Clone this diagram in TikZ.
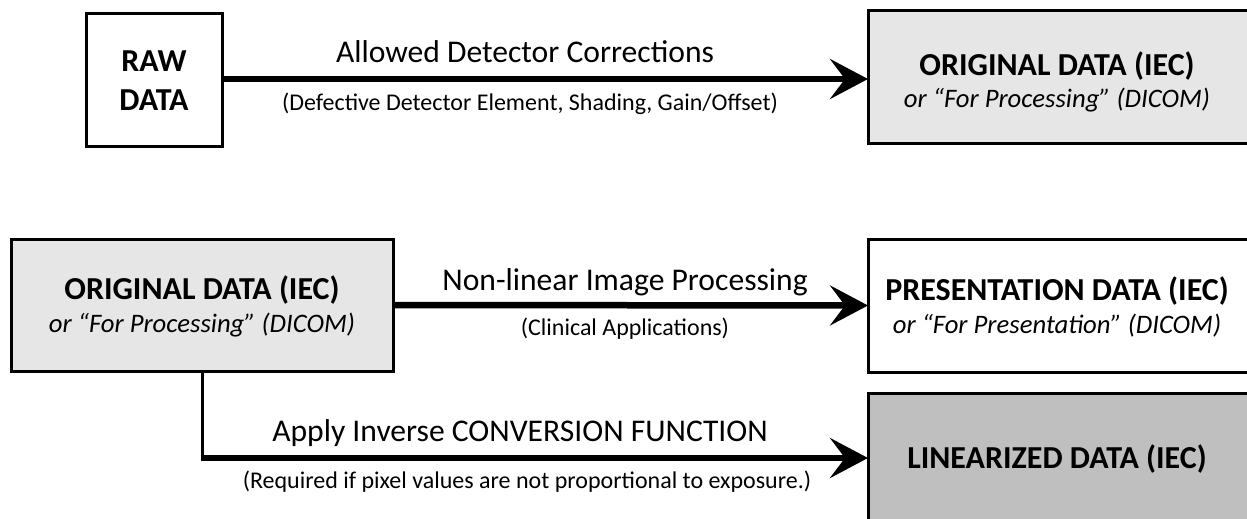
\documentclass[tikz,border=0pt]{standalone}
\usepackage{fontspec}
\setmainfont{Carlito}
\usetikzlibrary{arrows.meta}
\definecolor{lightbox}{HTML}{E6E6E6}
\definecolor{darkbox}{HTML}{BFBFBF}
\tikzset{
  box/.style={draw=black, line width=3pt, inner sep=0pt, outer sep=0pt},
  boxtext/.style={font=\fontsize{32}{38}\selectfont\bfseries, inner sep=0pt, anchor=base},
  subtext/.style={font=\fontsize{26.7}{32}\selectfont\itshape, inner sep=0pt, anchor=base},
  biglabel/.style={font=\fontsize{31.6}{36}\selectfont, inner sep=0pt, anchor=base},
  smalllabel/.style={font=\fontsize{24}{28}\selectfont, inner sep=0pt, anchor=base},
  flow/.style={line width=6.5pt, -{Stealth[length=38pt, width=40pt, inset=15pt]}},
  stem/.style={line width=3pt}
}
\begin{document}
\begin{tikzpicture}[x=1pt,y=-1pt]
\useasboundingbox (0,0) rectangle (1247,519);
\clip (0,0) rectangle (1247,519);
% boxes
\node[box, fill=white, minimum width=136pt, minimum height=132pt] (raw) at (154,80) {};
\node[box, fill=lightbox, minimum width=384pt, minimum height=132pt] (orig1) at (1060,77) {};
\node[box, fill=lightbox, minimum width=382pt, minimum height=132pt] (orig2) at (202,305) {};
\node[box, fill=white, minimum width=384pt, minimum height=133pt] (pres) at (1060,305.5) {};
\node[box, fill=darkbox, minimum width=384pt, minimum height=130pt] (lin) at (1060,458) {};
% box texts
\node[boxtext] (rawt1) at (154,71) {RAW};
\node[boxtext] (rawt2) at (154,110) {DATA};
\node[boxtext] (o1t) at (1057,75) {ORIGINAL DATA (IEC)};
\node[subtext] (o1s) at (1057,107) {or “For Processing” (DICOM)};
\node[boxtext] (o2t) at (202,299) {ORIGINAL DATA (IEC)};
\node[subtext] (o2s) at (202,332) {or “For Processing” (DICOM)};
\node[boxtext] (pt) at (1057,300) {PRESENTATION DATA (IEC)};
\node[subtext] (ps) at (1057,333) {or “For Presentation” (DICOM)};
\node[boxtext] (lt) at (1057,468) {LINEARIZED DATA (IEC)};
% connectors
\draw[flow] (raw.east |- 0,79) coordinate (a1) -- (orig1.west |- a1);
\draw[flow] (orig2.east) -- (pres.west);
\coordinate (corner) at (orig2.south |- lin.west);
\draw[stem] (orig2.south) -- ([yshift=-2pt]corner);
\draw[flow] ([xshift=-1.5pt]corner) -- (lin.west);
% labels
\node[biglabel] (l1) at (525,63) {Allowed Detector Corrections};
\node[smalllabel] (l1s) at (530,110) {(Defective Detector Element, Shading, Gain/Offset)};
\node[biglabel] (l2) at (625,290) {Non-linear Image Processing};
\node[smalllabel] (l2s) at (625,335) {(Clinical Applications)};
\node[biglabel] (l3) at (520,441) {Apply Inverse CONVERSION FUNCTION};
\node[smalllabel] (l3s) at (527,488) {(Required if pixel values are not proportional to exposure.)};
\end{tikzpicture}
\end{document}
